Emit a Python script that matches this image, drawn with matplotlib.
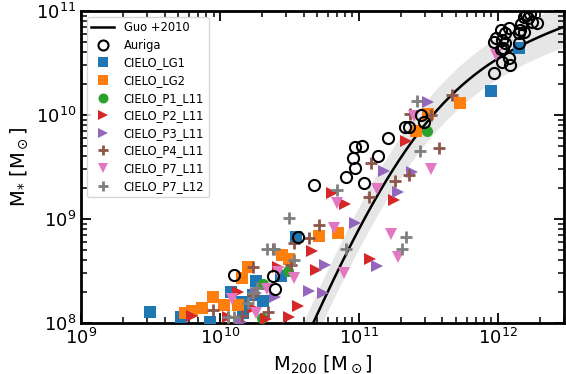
import numpy as np
import matplotlib.pyplot as plt

# Guo et al. (2010) abundance-matching parameters
guo_c = 0.129
guo_logM0 = 11.4
guo_alpha = 0.926
guo_beta = 0.261
guo_gamma = 2.440
guo_scatter = 0.2  # dex

# log10 M200 / log10 M* for each sample
auriga_m200 = [12.20, 12.23, 12.19, 12.22, 12.28, 12.25, 12.17, 12.16, 12.19, 12.15,
               12.08, 12.02, 12.05, 11.99, 11.97, 12.03, 12.05, 12.04, 12.02, 12.08,
               12.03, 12.09, 11.97, 12.15,
               10.68, 10.91, 10.97, 10.96, 10.97, 11.02, 11.04, 11.14, 11.21, 11.33,
               11.36, 11.45, 11.47,
               10.10, 10.38, 10.40, 10.56]
auriga_mstar = [10.96, 10.97, 10.94, 10.93, 10.88, 10.89, 10.87, 10.82, 10.80, 10.79,
                10.84, 10.82, 10.79, 10.74, 10.70, 10.72, 10.69, 10.64, 10.63, 10.55,
                10.51, 10.48, 10.40, 10.69,
                9.33, 9.40, 9.49, 9.59, 9.69, 9.70, 9.35, 9.61, 9.78, 9.88,
                9.88, 10.00, 9.93,
                8.46, 8.45, 8.33, 8.83]

lg1_m200 = [9.50, 9.72, 9.93, 10.08, 10.16, 10.17, 10.24, 10.26, 10.31, 10.44, 10.55, 11.95, 12.15]
lg1_mstar = [8.11, 8.06, 8.01, 8.30, 8.20, 8.10, 8.27, 8.40, 8.21, 8.45, 8.83, 10.23, 10.64]

lg2_m200 = [9.75, 9.80, 9.87, 9.95, 10.03, 10.13, 10.16, 10.20, 10.45, 10.50, 10.71, 10.85, 11.41, 11.50, 11.73]
lg2_mstar = [8.10, 8.12, 8.15, 8.25, 8.17, 8.17, 8.43, 8.54, 8.65, 8.62, 8.84, 8.87, 9.85, 10.01, 10.11]

p1_m200 = [10.30, 10.31, 10.49, 11.49]
p1_mstar = [8.05, 8.38, 8.50, 9.85]

p2_m200 = [9.80, 10.06, 10.13, 10.24, 10.33, 10.42, 10.50, 10.56, 10.66, 10.69, 10.81, 10.90, 11.08, 11.25, 11.34]
p2_mstar = [8.07, 8.06, 8.30, 8.15, 8.04, 8.54, 8.06, 8.16, 8.69, 8.51, 9.25, 9.14, 8.62, 9.18, 9.75]

p3_m200 = [10.15, 10.26, 10.40, 10.64, 10.74, 10.76, 10.97, 11.13, 11.18, 11.28, 11.38, 11.50]
p3_mstar = [8.01, 8.29, 8.25, 8.31, 8.29, 8.56, 8.96, 8.55, 9.46, 9.26, 9.45, 10.12]

p4_m200 = [9.95, 10.06, 10.16, 10.24, 10.24, 10.35, 10.38, 10.51, 10.53, 10.64,
           10.71, 11.07, 11.09, 11.26, 11.36, 11.37, 11.52, 11.58, 11.67]
p4_mstar = [8.13, 8.06, 8.07, 8.54, 8.27, 8.11, 8.71, 8.56, 8.77, 8.82,
            8.94, 9.21, 9.54, 9.37, 9.42, 10.01, 10.00, 9.68, 10.19]

p7l11_m200 = [10.09, 10.26, 10.34, 10.42, 10.53, 10.82, 10.84, 10.89, 11.13, 11.23, 11.28, 11.40, 11.52, 11.99]
p7l11_mstar = [8.23, 8.10, 8.33, 8.49, 8.43, 8.91, 9.15, 8.48, 9.29, 8.86, 8.64, 9.99, 9.48, 10.58]

p7l12_m200 = [10.06, 10.10, 10.20, 10.24, 10.27, 10.34, 10.39, 10.50, 10.53, 10.84, 10.91, 11.31, 11.34, 11.42, 11.44]
p7l12_mstar = [8.06, 8.06, 8.19, 8.29, 8.34, 8.71, 8.71, 9.01, 8.61, 9.28, 8.71, 8.71, 8.83, 10.13, 9.65]


def guo2010(m200):
    x = m200 / 10**guo_logM0
    return guo_c * m200 * (x**(-guo_alpha) + x**guo_beta)**(-guo_gamma)


fig, ax = plt.subplots(figsize=(5.66, 3.74), dpi=100)
fig.subplots_adjust(left=0.143, right=0.9965, bottom=0.136, top=0.971)

mh = np.logspace(9, 12.6, 400)
ms = guo2010(mh)
ax.fill_between(mh, ms * 10**-guo_scatter, ms * 10**guo_scatter,
                color='0.9', lw=0, zorder=0)
ax.plot(mh, ms, color='k', lw=1.8, label='Guo +2010', zorder=1)

ax.plot(10**np.array(auriga_m200), 10**np.array(auriga_mstar), 'o', ms=8,
        mfc='none', mec='k', mew=1.5, label='Auriga', zorder=5)

sims = [
    (lg1_m200, lg1_mstar, 's', 'tab:blue', 'CIELO_LG1'),
    (lg2_m200, lg2_mstar, 's', 'tab:orange', 'CIELO_LG2'),
    (p1_m200, p1_mstar, 'o', 'tab:green', 'CIELO_P1_L11'),
    (p2_m200, p2_mstar, '>', 'tab:red', 'CIELO_P2_L11'),
    (p3_m200, p3_mstar, '>', 'tab:purple', 'CIELO_P3_L11'),
    (p4_m200, p4_mstar, '+', 'tab:brown', 'CIELO_P4_L11'),
    (p7l11_m200, p7l11_mstar, 'v', 'tab:pink', 'CIELO_P7_L11'),
    (p7l12_m200, p7l12_mstar, '+', 'tab:gray', 'CIELO_P7_L12'),
]
for mx, my, mk, col, lab in sims:
    if mk == '+':
        ax.plot(10**np.array(mx), 10**np.array(my), mk, color=col, ms=8.5,
                mew=2, label=lab, zorder=3)
    else:
        ax.plot(10**np.array(mx), 10**np.array(my), mk, color=col, ms=8,
                mew=0, label=lab, zorder=3)

ax.set_xscale('log')
ax.set_yscale('log')
ax.set_xlim(1e9, 3e12)
ax.set_ylim(1e8, 1e11)
ax.set_xlabel(r'M$_{200}$ [M$_\odot$]', fontsize=14)
ax.set_ylabel(r'M$_{*}$ [M$_\odot$]', fontsize=14)

ax.tick_params(which='both', direction='in', top=True, right=True, labelsize=13)
ax.tick_params(which='major', length=7, width=1.3)
ax.tick_params(which='minor', length=4, width=1.1)
for sp in ax.spines.values():
    sp.set_linewidth(2)

ax.legend(loc='upper left', fontsize=8.3, labelspacing=0.4, markerscale=0.9)

fig.savefig('out.png', dpi=100)
